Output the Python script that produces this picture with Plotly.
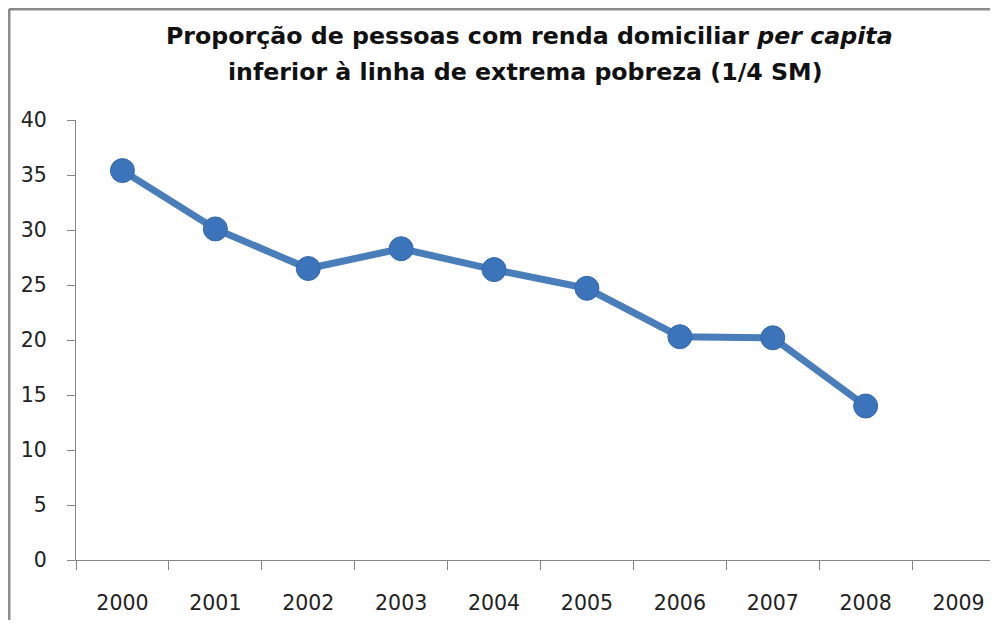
import plotly.graph_objects as go

years = ["2000", "2001", "2002", "2003", "2004", "2005", "2006", "2007", "2008", "2009"]
values = [35.4, 30.1, 26.5, 28.3, 26.4, 24.7, 20.3, 20.2, 14.0, None]
y_ticks = [0, 5, 10, 15, 20, 25, 30, 35, 40]
title_line1 = "Proporção de pessoas com renda domiciliar <i>per capita</i>"
title_line2 = "inferior à linha de extrema pobreza (1/4 SM)"

# figure is placed by the page at an (8, 8) offset; keep it inside the window
W, H = 982, 612
L, R, T, B = 68, 0, 112, 60
plot_w = W - L - R
plot_h = H - T - B
cat_w = 92.9

def px_x(fx):
    return (fx - L) / plot_w

def px_y(fy):
    return (H - B - fy) / plot_h

fig = go.Figure()
fig.add_trace(go.Scatter(
    x=years, y=values, mode="lines+markers",
    line=dict(color="#4A7EBB", width=7),
    marker=dict(color="#3C74BC", size=24, line=dict(color="#3568AA", width=1)),
    connectgaps=False, showlegend=False, hoverinfo="x+y",
))

font_family = "'DejaVu Sans', sans-serif"

fig.update_layout(
    width=W, height=H,
    margin=dict(l=L, r=R, t=T, b=B, pad=0),
    paper_bgcolor="white", plot_bgcolor="white",
    font=dict(family=font_family, color="#222222"),
    xaxis=dict(
        type="category", categoryorder="array", categoryarray=years,
        range=[-0.5, -0.5 + plot_w / cat_w],
        tickson="boundaries", ticks="outside", ticklen=9, tickcolor="#868686", tickwidth=1,
        showline=True, linecolor="#868686", linewidth=1, showgrid=False,
        tickfont=dict(size=20.5, color="#222222"), ticklabelstandoff=24,
        zeroline=False, fixedrange=True,
    ),
    yaxis=dict(
        range=[0, 40], tickvals=y_ticks, ticktext=[str(v) for v in y_ticks],
        ticks="outside", ticklen=8, tickcolor="#868686", tickwidth=1,
        showline=True, linecolor="#868686", linewidth=1, showgrid=False,
        tickfont=dict(size=20.5, color="#222222"), ticklabelstandoff=16,
        zeroline=False, fixedrange=True,
    ),
    annotations=[
        dict(text=title_line1, xref="paper", yref="paper",
             x=px_x(521), y=px_y(28), xanchor="center", yanchor="middle",
             showarrow=False, font=dict(size=23.7, family=font_family, color="#111111", weight="bold")),
        dict(text=title_line2, xref="paper", yref="paper",
             x=px_x(517), y=px_y(64), xanchor="center", yanchor="middle",
             showarrow=False, font=dict(size=23.7, family=font_family, color="#111111", weight="bold")),
    ],
    shapes=[
        dict(type="line", xref="paper", yref="paper",
             x0=px_x(1), x1=px_x(W + 10),
             y0=px_y(1), y1=px_y(1),
             line=dict(color="#8C8C8C", width=3), layer="above"),
        dict(type="line", xref="paper", yref="paper",
             x0=px_x(1), x1=px_x(1),
             y0=px_y(1), y1=px_y(H + 10),
             line=dict(color="#8C8C8C", width=3), layer="above"),
    ],
)

fig.write_html("out.html")
